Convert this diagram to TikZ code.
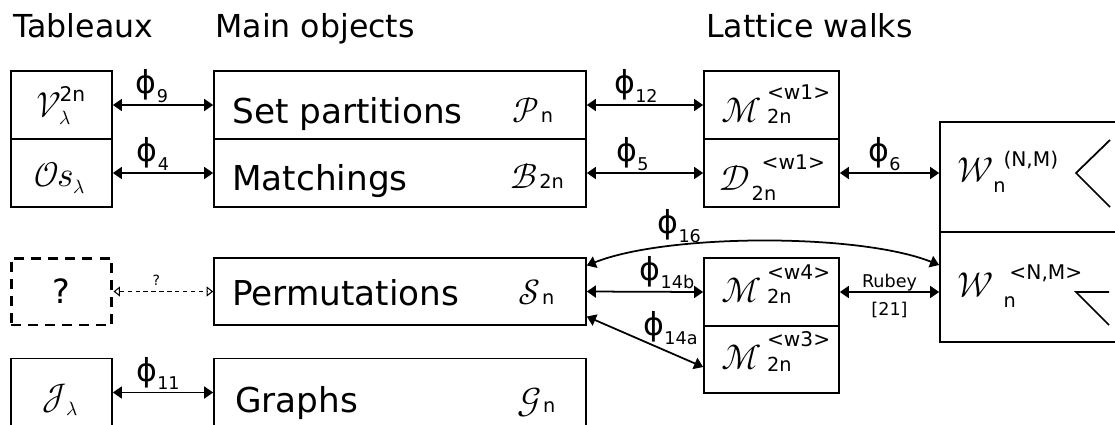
\documentclass[tikz,border=0pt]{standalone}
\usepackage{amsmath}
\usepackage{fontspec}
\usepackage{unicode-math}
\setmainfont{DejaVu Sans}
\setmathfont{Latin Modern Math}
\usetikzlibrary{arrows.meta}

\newcommand{\phil}[1]{{\fontsize{18}{18}\selectfont ϕ}\raisebox{-5pt}{\fontsize{10}{10}\selectfont #1}}
\newcommand{\supf}{\fontsize{11.5}{12}\selectfont}
\newcommand{\subf}{\fontsize{11}{12}\selectfont}
% letter, gap, sup offset, sup raise, sup text, sub drop, sub text
\newcommand{\ssym}[7]{$\mathscr{#1}$\kern#2\rlap{\kern#3\raisebox{#4}{\supf #5}}\raisebox{-#6}{\subf #7}}

\begin{document}
\begin{tikzpicture}[x=0.02cm,y=-0.02cm,>={Triangle[length=1.8mm,width=2.4mm]},
  box/.style={draw,line width=1pt,inner sep=0pt,minimum height=1.36cm},
  dbox/.style={draw,line width=1.7pt,dash pattern=on 5.7pt off 4pt,inner sep=0pt,
    minimum height=1.34cm,font=\fontsize{19}{22}\selectfont},
  txt/.style={font=\fontsize{19.5}{22}\selectfont,inner sep=0pt},
  sym/.style={font=\fontsize{20}{22}\selectfont,inner sep=0pt,anchor=base west},
  head/.style={font=\fontsize{18}{21}\selectfont,inner sep=0pt,anchor=base west},
  link/.style={line width=1pt,<->},
  dlink/.style={line width=0.6pt,dash pattern=on 2.5pt off 2pt,
    {Triangle[open,length=1.3mm,width=2mm]}-{Triangle[open,length=1.3mm,width=2mm]}},
  phi/.style={inner sep=0pt,above=1pt},
  lbl/.style={font=\fontsize{10}{11}\selectfont,inner sep=0pt},
]
\useasboundingbox (0,0) rectangle (1115,424);
\clip (0,0) rectangle (1115,424);

% ------------------------------------------------------------------
% headings
% ------------------------------------------------------------------
\node[head] (hTab) at (13,37) {Tableaux};
\node[head] (hMain) at (215,37) {Main objects};
\node[head] (hWalk) at (706,37) {Lattice walks};

% ------------------------------------------------------------------
% tableaux
% ------------------------------------------------------------------
\node[box,minimum width=2.02cm] (vt) at (61.5,105) {};
\node[box,minimum width=2.02cm] (os) at (61.5,173) {};
\node[dbox,minimum width=2.02cm] (unk) at (61.5,291.5) {?};
\node[box,minimum width=2.02cm] (it) at (61.5,392.5) {};

\node[sym] (vtS) at (36,117) {\ssym{V}{-1pt}{0pt}{9pt}{2n}{4.5pt}{$\lambda$}};
\node[sym] (osS) at (34,186) {\ssym{O}{-1pt}{0pt}{0pt}{}{0pt}{}$\mathscr{s}$\raisebox{-4pt}{\subf$\lambda$}};
\node[sym] (itS) at (42,408) {\ssym{J}{0pt}{0pt}{0pt}{}{4pt}{$\lambda$}};

% ------------------------------------------------------------------
% main objects
% ------------------------------------------------------------------
\node[box,minimum width=7.44cm] (sp) at (400,105) {};
\node[box,minimum width=7.44cm] (mt) at (400,173) {};
\node[box,minimum width=7.44cm,minimum height=1.34cm] (perm) at (400,291.5) {};
\node[box,minimum width=7.44cm] (gr) at (400,392.5) {};

\node[txt,anchor=base west] (spT) at (232,123) {Set partitions};
\node[sym] (spS) at (512,122) {\ssym{P}{1pt}{0pt}{0pt}{}{0.5pt}{n}};
\node[txt,anchor=base west] (mtT) at (232,190) {Matchings};
\node[sym] (mtS) at (510,188) {\ssym{B}{1pt}{0pt}{0pt}{}{0.5pt}{2n}};
\node[txt,anchor=base west] (permT) at (232,305) {Permutations};
\node[sym] (permS) at (518,304) {\ssym{S}{1pt}{0pt}{0pt}{}{0pt}{n}};
\node[txt,anchor=base west] (grT) at (235,412) {Graphs};
\node[sym] (grS) at (517,412) {\ssym{G}{1pt}{0pt}{0pt}{}{0pt}{n}};

% ------------------------------------------------------------------
% lattice walks
% ------------------------------------------------------------------
\node[box,minimum width=2.7cm] (mw1) at (771.5,105) {};
\node[box,minimum width=2.7cm] (dw) at (771.5,173) {};
\node[box,minimum width=2.7cm] (m4) at (771.5,292) {};
\node[box,minimum width=2.7cm,minimum height=1.34cm] (m3) at (771.5,359.5) {};

\node[sym] (mw1S) at (721,122) {\ssym{M}{3pt}{0pt}{13pt}{<w1>}{1pt}{2n}};
\node[sym] (dwS) at (719,190) {\ssym{D}{1pt}{5.7pt}{11.4pt}{<w1>}{5.7pt}{2n}};
\node[sym] (m4S) at (721,302) {\ssym{M}{3pt}{0pt}{13pt}{<w4>}{1pt}{2n}};
\node[sym] (m3S) at (721,369.5) {\ssym{M}{3pt}{0pt}{13pt}{<w3>}{1pt}{2n}};

\node[box,minimum width=3.9cm,minimum height=2.2cm] (wnm) at (1037.5,177) {};
\node[box,minimum width=3.9cm,minimum height=2.2cm] (wlt) at (1037.5,287) {};
\node[sym] (wnmS) at (957,182) {\ssym{W}{0pt}{5.7pt}{9pt}{(N,M)}{6pt}{n}};
\node[sym] (wltS) at (957,297) {\ssym{W}{5.7pt}{3.4pt}{9.7pt}{<N,M>}{5.7pt}{n}};

\draw[line width=1pt] (1110,140) -- (1076,173) -- (1110,207);
\draw[line width=1pt] (1109,292) -- (1076,292) -- (1109,325);

% ------------------------------------------------------------------
% bijections
% ------------------------------------------------------------------
\draw[link] (vt) -- (sp) node[phi,midway,xshift=-0.22cm]{\phil{9}};
\draw[link] (os) -- (mt) node[phi,midway,xshift=-0.2cm]{\phil{4}};
\draw[dlink] (unk) -- (perm) node[lbl,font=\fontsize{8}{9}\selectfont,midway,above=3pt,xshift=-0.14cm]{?};
\draw[link] (it) -- (gr) node[phi,midway,xshift=-0.1cm]{\phil{11}};

\draw[link] (sp) -- (mw1) node[phi,midway,xshift=-0.18cm]{\phil{12}};
\draw[link] (mt) -- (dw) node[phi,midway,xshift=-0.25cm]{\phil{5}};
\draw[link] (dw.east) -- (dw.east -| wnm.west) node[phi,midway,xshift=-0.1cm]{\phil{6}};

\draw[link] ([yshift=0.52cm]perm.east) .. controls +(80,-32) and +(-80,-32) ..
  ([yshift=0.44cm]wlt.west) node[phi,pos=0.29]{\phil{16}};
\draw[link] (perm.east) -- (m4.west) node[phi,midway,xshift=0.44cm]{\phil{14b}};
\draw[link] ([yshift=-0.5cm]perm.east) -- ([yshift=-0.15cm]m3.west)
  node[phi,pos=0.72,above=3pt]{\phil{14a}};
\draw[link] (m4.east) -- (m4.east -| wlt.west)
  node[lbl,midway,above=0pt]{Rubey} node[lbl,midway,below=5pt]{[21]};

\end{tikzpicture}
\end{document}
